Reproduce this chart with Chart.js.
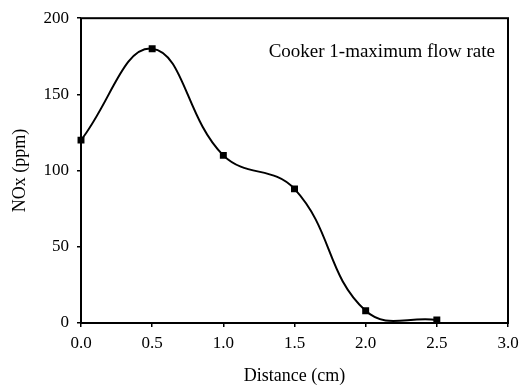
<!DOCTYPE html>
<html>
<head>
<meta charset="utf-8">
<script src="https://cdn.jsdelivr.net/npm/chart.js@4/dist/chart.umd.min.js"></script>
<style>
  html, body { margin: 0; padding: 0; background: #fff; }
  #wrap { width: 528px; height: 387px; }
</style>
</head>
<body>
<div id="wrap"><canvas id="myChart" width="528" height="387"></canvas></div>
<script>
// data
const distance = [0.0, 0.5, 1.0, 1.5, 2.0, 2.5];
const noxPpm = [120, 180, 110, 88, 8, 2];
const xTicks = [0.0, 0.5, 1.0, 1.5, 2.0, 2.5, 3.0];
const yTicks = [0, 50, 100, 150, 200];
const noteText = "Cooker 1-maximum flow rate";

const serif = "'Liberation Serif', 'Times New Roman', serif";

// box round the plot + the note in the top right
const framePlugin = {
  id: 'frame',
  afterDatasetsDraw(chart) {
    const a = chart.chartArea;
    const c = chart.ctx;
    c.save();
    c.strokeStyle = '#000';
    c.lineWidth = 2;
    c.strokeRect(a.left, a.top, a.right - a.left, a.bottom - a.top);
    c.fillStyle = '#000';
    c.font = '19px ' + serif;
    c.textAlign = 'right';
    c.textBaseline = 'alphabetic';
    c.fillText(noteText, 495, 57);
    c.restore();
  }
};

const pts = distance.map((d, i) => ({ x: d, y: noxPpm[i] }));

const ctx = document.getElementById('myChart').getContext('2d');
var myChart = new Chart(ctx, {
  type: 'line',
  data: {
    datasets: [{
      data: pts,
      borderColor: '#000',
      backgroundColor: '#000',
      borderWidth: 2,
      tension: 0.42,
      capBezierPoints: false,
      pointStyle: 'rect',
      pointRadius: 3.5,
      pointHoverRadius: 3.5,
      clip: { left: 6, top: 6, right: 6, bottom: 1 }
    }]
  },
  options: {
    responsive: false,
    animation: false,
    layout: { padding: { top: 16, right: 20, left: 0, bottom: 0 } },
    plugins: { legend: { display: false }, tooltip: { enabled: false } },
    scales: {
      x: {
        type: 'linear',
        min: 0, max: 3,
        afterBuildTicks: s => { s.ticks = xTicks.map(v => ({ value: v })); },
        afterFit: s => { s.height = 64; },
        border: { display: false },
        grid: { drawOnChartArea: false, drawTicks: true, tickLength: 4, color: '#000', lineWidth: 1.5 },
        ticks: {
          color: '#000', padding: 6,
          font: { family: serif, size: 17 },
          maxRotation: 0,
          callback: v => Number(v).toFixed(1)
        },
        title: {
          display: true, text: 'Distance (cm)', color: '#000',
          font: { family: serif, size: 18 },
          padding: { top: 5, bottom: 0 }
        }
      },
      y: {
        min: 0, max: 200,
        afterBuildTicks: s => { s.ticks = yTicks.map(v => ({ value: v })); },
        afterFit: s => { s.width = 81; },
        border: { display: false },
        grid: { drawOnChartArea: false, drawTicks: true, tickLength: 4, color: '#000', lineWidth: 1.5 },
        ticks: {
          color: '#000', padding: 8,
          font: { family: serif, size: 17 }
        },
        title: {
          display: true, text: 'NOx (ppm)', color: '#000',
          font: { family: serif, size: 18 },
          padding: { top: 9, bottom: 0 }
        }
      }
    }
  },
  plugins: [framePlugin]
});
</script>
</body>
</html>
